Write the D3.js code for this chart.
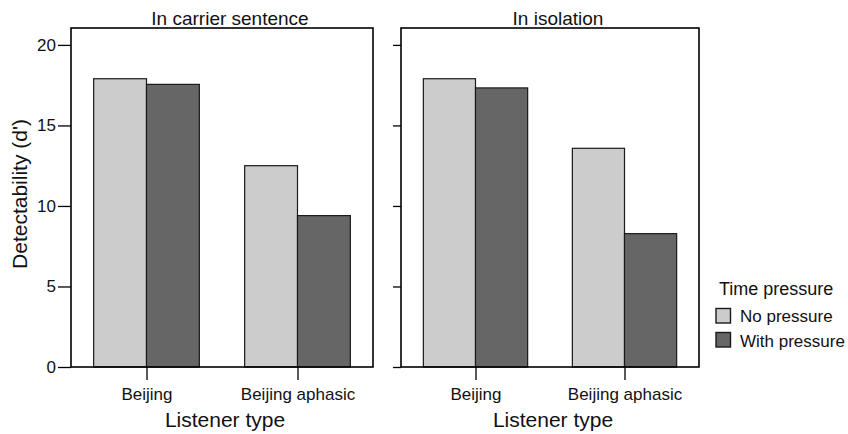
<!DOCTYPE html>
<html>
<head>
<meta charset="utf-8">
<script src="https://cdn.jsdelivr.net/npm/d3@7"></script>
<style>
  html, body { margin: 0; padding: 0; background: #fff; }
  svg { display: block; font-family: "Liberation Sans", Arial, Helvetica, sans-serif; }
</style>
</head>
<body>
<svg id="chart" width="848" height="434"></svg>
<script>
// Detectability (d') by listener type, split by stimulus context and time pressure
const panels = ["In carrier sentence", "In isolation"];
const listeners = ["Beijing", "Beijing aphasic"];
const conditions = ["No pressure", "With pressure"];
const carrierNoPressure = [17.9, 12.5];
const carrierWithPressure = [17.55, 9.4];
const isolationNoPressure = [17.9, 13.58];
const isolationWithPressure = [17.33, 8.28];
const yTicks = [0, 5, 10, 15, 20];

const panelValues = [
  [carrierNoPressure, carrierWithPressure],
  [isolationNoPressure, isolationWithPressure]
];
const fills = ["#cccccc", "#666666"];

const svg = d3.select("#chart");
const plotTop = 28, plotBottom = 367;
const panelX = [[71, 373], [401, 699]];

const y = d3.scaleLinear().domain([0, 21.05]).range([plotBottom, plotTop]);

panels.forEach((title, p) => {
  const [x0, x1] = panelX[p];
  const x = d3.scalePoint().domain(listeners).range([x0, x1]).padding(0.5);
  const barW = x.step() * 0.35;
  const g = svg.append("g");

  // bars
  listeners.forEach((lab, i) => {
    conditions.forEach((c, j) => {
      const v = panelValues[p][j][i];
      const cx = x(lab);
      g.append("rect")
        .attr("x", j === 0 ? cx - barW : cx)
        .attr("y", y(v))
        .attr("width", barW)
        .attr("height", y(0) - y(v))
        .attr("fill", fills[j])
        .attr("stroke", "#1a1a1a")
        .attr("stroke-width", 1.2);
    });
  });

  // panel frame
  g.append("rect")
    .attr("x", x0).attr("y", plotTop)
    .attr("width", x1 - x0).attr("height", plotBottom - plotTop)
    .attr("fill", "none").attr("stroke", "#000").attr("stroke-width", 1.6);

  // y axis
  const yAxis = d3.axisLeft(y).tickValues(yTicks)
    .tickSize(p === 0 ? 13 : 8).tickPadding(2);
  if (p === 1) yAxis.tickFormat("");
  const ya = g.append("g").attr("transform", `translate(${x0},0)`).call(yAxis);
  ya.select(".domain").remove();
  ya.selectAll(".tick line").attr("stroke", "#000").attr("stroke-width", 1.3);
  ya.selectAll(".tick text").attr("font-size", 17).attr("fill", "#111")
    .style("font-family", "'Liberation Sans', Arial, sans-serif");

  // x axis
  const xAxis = d3.axisBottom(x).tickSize(13).tickPadding(8);
  const xa = g.append("g").attr("transform", `translate(0,${plotBottom})`).call(xAxis);
  xa.select(".domain").remove();
  xa.selectAll(".tick line").attr("stroke", "#000").attr("stroke-width", 1.3);
  xa.selectAll(".tick text").attr("font-size", 17).attr("fill", "#111")
    .style("font-family", "'Liberation Sans', Arial, sans-serif");

  // strip title
  g.append("text")
    .attr("x", (x0 + x1) / 2 + 8).attr("y", 25)
    .attr("text-anchor", "middle").attr("font-size", 19).attr("fill", "#111")
    .text(title);

  // x title
  g.append("text")
    .attr("x", (x0 + x1) / 2 + 3).attr("y", 427)
    .attr("text-anchor", "middle").attr("font-size", 21).attr("fill", "#111")
    .text("Listener type");
});

// y title
svg.append("text")
  .attr("transform", "translate(27,194) rotate(-90)")
  .attr("text-anchor", "middle").attr("font-size", 21).attr("fill", "#111")
  .text("Detectability (d')");

// legend
const legend = svg.append("g").attr("transform", "translate(716,0)");
legend.append("text")
  .attr("x", 3).attr("y", 295)
  .attr("font-size", 18).attr("fill", "#111")
  .text("Time pressure");
conditions.forEach((c, j) => {
  legend.append("rect")
    .attr("x", 0).attr("y", 308.5 + j * 24)
    .attr("width", 14.5).attr("height", 14.5)
    .attr("fill", fills[j]).attr("stroke", "#1a1a1a").attr("stroke-width", 1.4);
  legend.append("text")
    .attr("x", 24).attr("y", 321.5 + j * 25)
    .attr("font-size", 17).attr("fill", "#111")
    .text(c);
});
</script>
</body>
</html>
